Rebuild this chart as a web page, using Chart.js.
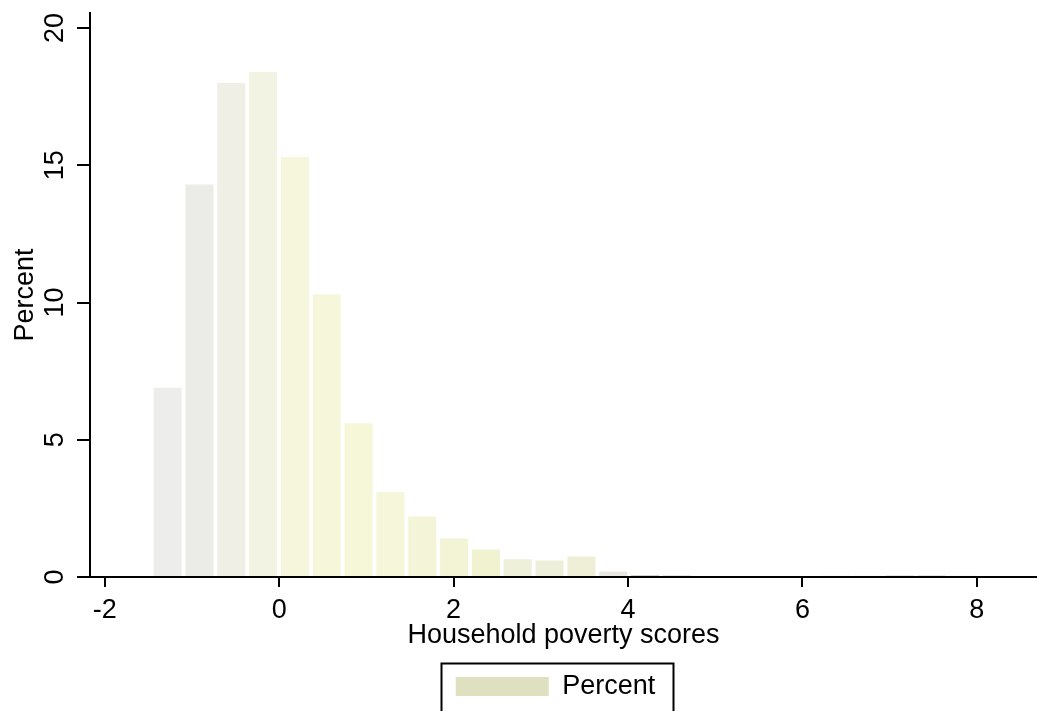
<!DOCTYPE html>
<html>
<head>
<meta charset="utf-8">
<title>Household poverty scores</title>
<script src="https://cdn.jsdelivr.net/npm/chart.js@4.4.1/dist/chart.umd.min.js"></script>
<style>
  html, body { margin: 0; padding: 0; background: #ffffff; overflow: hidden; }
  #wrap { width: 1037px; height: 711px; position: relative; }
</style>
</head>
<body>
<div id="wrap"><canvas id="chart"></canvas></div>
<script>
// Histogram bins: centre of each bin on the poverty-score scale
const binCenters = [
  -1.28, -0.915, -0.55, -0.185, 0.18, 0.545, 0.91, 1.275, 1.64, 2.005,
  2.37, 2.735, 3.10, 3.465, 3.83, 4.195, 4.56, 4.925, 5.29, 5.655,
  6.02, 6.385, 6.75, 7.115, 7.48, 7.845, 8.21
];
// Share of households in each bin (%)
const percentValues = [
  6.9, 14.3, 18.0, 18.4, 15.3, 10.3, 5.6, 3.1, 2.2, 1.4,
  1.0, 0.65, 0.6, 0.75, 0.2, 0.06, 0.05, 0, 0, 0,
  0, 0.04, 0.04, 0.05, 0.05, 0.04, 0
];
const xTickValues = [-2, 0, 2, 4, 6, 8];
const yTickValues = [0, 5, 10, 15, 20];
const seriesLabel = 'Percent';
const xTitle = 'Household poverty scores';
const yTitle = 'Percent';

// Fill shades: light grey on the left, turning pale yellow towards the centre
const barColors = [
  '#ededeb', '#ebebe7', '#efefe6', '#f2f3e2', '#f5f6dc', '#f6f7da', '#f6f7d8', '#f5f6da', '#f4f5d8', '#f3f4d6',
  '#f1f2d0', '#eff0da', '#eeefda', '#eeefd6', '#e8e8e0', '#bdbdb5', '#bdbdb5', '#bdbdb5', '#bdbdb5', '#bdbdb5',
  '#bdbdb5', '#bdbdb5', '#bdbdb5', '#bdbdb5', '#bdbdb5', '#bdbdb5', '#bdbdb5'
];
const legendSwatch = '#dfe0bf';
const FONT = "'Liberation Sans', Arial, Helvetica, sans-serif";
const FONT_SIZE = 27;
const LEGEND_SHIFT = -8;

// Nudges the legend row and frames it with an open-bottomed box
const legendFrame = {
  id: 'legendFrame',
  afterUpdate(chart) {
    const lg = chart.legend;
    if (!lg) return;
    lg.left += LEGEND_SHIFT;
    lg.right += LEGEND_SHIFT;
    (lg.legendHitBoxes || []).forEach(hb => { hb.left += LEGEND_SHIFT; });
  },
  afterDraw(chart) {
    const lg = chart.legend;
    if (!lg || !lg.legendHitBoxes || !lg.legendHitBoxes.length) return;
    const hb = lg.legendHitBoxes[0];
    const ctx = chart.ctx;
    ctx.save();
    ctx.strokeStyle = '#000';
    ctx.lineWidth = 2;
    const l = Math.round(hb.left - 15) + 0.5;
    const r = Math.round(hb.left + hb.width + 18) + 0.5;
    const t = Math.round(hb.top - 10) + 0.5;
    const b = chart.height + 10;
    ctx.beginPath();
    ctx.moveTo(l, b);
    ctx.lineTo(l, t);
    ctx.lineTo(r, t);
    ctx.lineTo(r, b);
    ctx.stroke();
    ctx.restore();
  }
};

const ctx = document.getElementById('chart').getContext('2d');
new Chart(ctx, {
  type: 'bar',
  data: {
    datasets: [{
      label: seriesLabel,
      data: binCenters.map((x, i) => ({ x: x, y: percentValues[i] })),
      backgroundColor: barColors,
      borderWidth: 0,
      barPercentage: 0.88,
      categoryPercentage: 1.0
    }]
  },
  options: {
    responsive: true,
    maintainAspectRatio: false,
    animation: false,
    devicePixelRatio: 1,
    layout: { padding: { top: 13, right: 0, bottom: 1, left: 0 } },
    plugins: {
      tooltip: { enabled: false },
      legend: {
        display: true,
        position: 'bottom',
        fullSize: false,
        labels: {
          boxWidth: 93,
          boxHeight: 19,
          padding: 10,
          color: '#000',
          font: { family: FONT, size: FONT_SIZE },
          generateLabels: () => [{
            text: seriesLabel,
            fillStyle: legendSwatch,
            strokeStyle: legendSwatch,
            lineWidth: 0,
            hidden: false,
            datasetIndex: 0
          }]
        }
      }
    },
    scales: {
      x: {
        type: 'linear',
        min: -2.17,
        max: 8.69,
        offset: false,
        afterBuildTicks: (scale) => { scale.ticks = xTickValues.map(v => ({ value: v })); },
        afterFit: (scale) => { scale.height = 86; scale.paddingLeft = 0; scale.paddingRight = 0; },
        ticks: {
          color: '#000',
          padding: 7,
          font: { family: FONT, size: FONT_SIZE },
          maxRotation: 0,
          autoSkip: false,
          callback: (v) => String(v)
        },
        grid: { display: true, offset: false, drawOnChartArea: false, drawTicks: true, tickLength: 10, color: '#000', lineWidth: 2 },
        border: { display: true, color: '#000', width: 2 },
        title: {
          display: true,
          text: xTitle,
          color: '#000',
          font: { family: FONT, size: FONT_SIZE },
          padding: { top: 0, bottom: 11 }
        }
      },
      y: {
        type: 'linear',
        min: 0,
        max: 20.55,
        afterBuildTicks: (scale) => { scale.ticks = yTickValues.map(v => ({ value: v })); },
        afterFit: (scale) => { scale.width = 90; scale.paddingTop = 0; scale.paddingBottom = 0; },
        ticks: {
          color: '#000',
          padding: 6,
          minRotation: 90,
          maxRotation: 90,
          crossAlign: 'center',
          font: { family: FONT, size: FONT_SIZE },
          autoSkip: false,
          callback: (v) => String(v)
        },
        grid: { display: true, offset: false, drawOnChartArea: false, drawTicks: true, tickLength: 13, color: '#000', lineWidth: 2 },
        border: { display: true, color: '#000', width: 2 },
        title: {
          display: true,
          text: yTitle,
          color: '#000',
          font: { family: FONT, size: FONT_SIZE },
          padding: { top: 9, bottom: 0 }
        }
      }
    }
  },
  plugins: [legendFrame]
});
</script>
</body>
</html>
